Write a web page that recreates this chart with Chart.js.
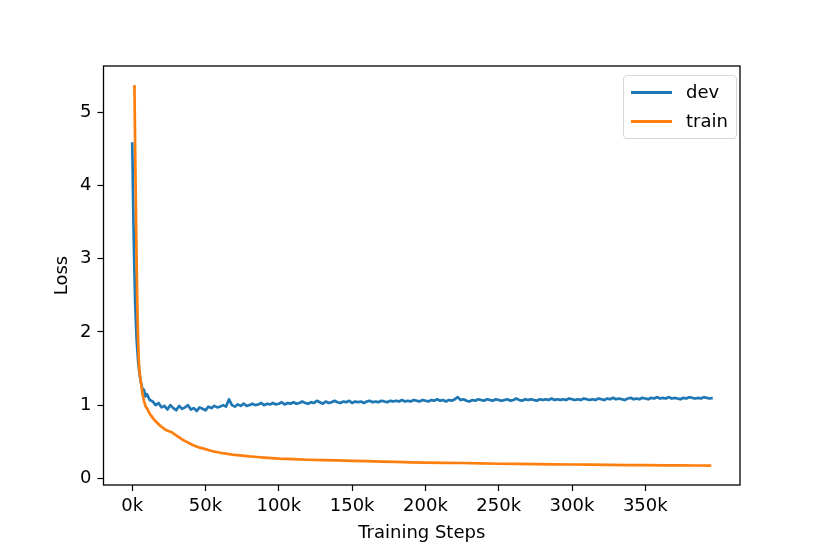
<!DOCTYPE html>
<html>
<head>
<meta charset="utf-8">
<script src="https://cdn.jsdelivr.net/npm/chart.js@4/dist/chart.umd.min.js"></script>
<style>
  body { margin: 0; background: #fff; }
  #wrap { position: relative; width: 830px; height: 554px; }
  #legend {
    position: absolute; left: 623px; top: 75px; width: 112px; height: 62px;
    border: 1px solid #d6d6d6; border-radius: 4px; background: rgba(255,255,255,0.8);
    font-family: "DejaVu Sans", sans-serif; font-size: 18px; color: #000;
  }
  #legend .row { position: absolute; left: 0; height: 24px; }
  #legend .swatch { position: absolute; left: 7px; width: 41px; height: 3px; }
  #legend .txt { position: absolute; left: 62px; top: -1px; line-height: 24px; white-space: nowrap; }
</style>
</head>
<body>
<div id="wrap">
  <canvas id="grafico" width="830" height="554"></canvas>
  <div id="legend"></div>
</div>
<script>
// training steps in thousands
const devSteps = [0,1,2,3,4,5,6,7,8,9,10,12,14,16,18,20,22,24,26,28,30,32,34,36,38,40,42,44,46,48,50,52,54,56,58,60,62,64,66,68,70,72,74,76,78,80,82,84,86,88,90,92,94,96,98,100,102,104,106,108,110,112,114,116,118,120,122,124,126,128,130,132,134,136,138,140,142,144,146,148,150,152,154,156,158,160,162,164,166,168,170,172,174,176,178,180,182,184,186,188,190,192,194,196,198,200,202,204,206,208,210,212,214,216,218,220,222,224,226,228,230,232,234,236,238,240,242,244,246,248,250,252,254,256,258,260,262,264,266,268,270,272,274,276,278,280,282,284,286,288,290,292,294,296,298,300,302,304,306,308,310,312,314,316,318,320,322,324,326,328,330,332,334,336,338,340,342,344,346,348,350,352,354,356,358,360,362,364,366,368,370,372,374,376,378,380,382,384,386,388,390,392,394,396];
const devLoss = [4.59,3.3,2.4,1.9,1.6,1.42,1.3,1.22,1.21,1.12,
  1.15,1.07,1.05,1.0,1.03,0.97,0.99,0.94,1.0,0.96,0.93,0.99,0.95,0.97,1.0,0.94,0.96,0.92,0.97,0.95,
  0.93,0.98,0.96,0.99,0.97,0.98,1.0,0.98,1.08,1.0,0.98,1.01,0.99,1.02,0.99,1.0,1.02,1.0,1.01,1.03,
  1.0,1.02,1.01,1.03,1.01,1.02,1.04,1.01,1.03,1.02,1.04,1.02,1.03,1.05,1.03,1.02,1.04,1.03,1.06,1.04,
  1.02,1.05,1.03,1.04,1.06,1.04,1.03,1.05,1.04,1.06,1.03,1.05,1.04,1.05,1.03,1.05,1.06,1.04,1.05,1.04,
  1.06,1.05,1.04,1.06,1.05,1.06,1.05,1.07,1.05,1.06,1.05,1.07,1.06,1.05,1.07,1.06,1.05,1.07,1.06,1.08,
  1.06,1.07,1.05,1.07,1.06,1.08,1.11,1.07,1.08,1.06,1.05,1.07,1.06,1.08,1.07,1.06,1.08,1.07,1.06,1.08,
  1.07,1.06,1.07,1.08,1.06,1.07,1.09,1.07,1.06,1.08,1.07,1.08,1.07,1.06,1.08,1.07,1.08,1.07,1.09,1.07,
  1.08,1.07,1.08,1.07,1.09,1.08,1.07,1.08,1.07,1.09,1.08,1.07,1.08,1.07,1.09,1.08,1.07,1.09,1.08,1.1,
  1.08,1.09,1.08,1.07,1.09,1.1,1.08,1.09,1.08,1.1,1.09,1.08,1.1,1.09,1.11,1.09,1.1,1.09,1.11,1.09,
  1.1,1.09,1.08,1.1,1.09,1.11,1.1,1.09,1.1,1.09,1.11,1.1,1.09,1.1];

const trainSteps = [1.5,2,2.5,3,3.5,4,4.5,5,6,7,8,9,10.5,12,13.5,15,17,19,21,23,25,27,29,32,35,38,42,46,50,55,60,70,80,90,100,120,140,160,180,200,225,250,275,300,325,350,375,395];
const trainLoss = [5.37,4.5,3.7,2.95,2.35,1.9,1.6,1.45,1.3,1.15,1.06,0.99,0.94,0.88,0.84,0.8,0.76,0.72,0.69,0.66,0.645,0.63,0.6,0.56,0.52,0.49,0.45,0.42,0.4,0.37,0.35,0.32,0.3,0.285,0.27,0.255,0.245,0.235,0.225,0.215,0.21,0.2,0.195,0.19,0.185,0.18,0.178,0.175];

const xTicks = [0,50,100,150,200,250,300,350];
const yTicks = [0,1,2,3,4,5];

const canvas = document.getElementById("grafico");
const fuente = { family: "DejaVu Sans", size: 18 };

const toPoints = (xs, ys) => xs.map((x, i) => ({ x: x, y: ys[i] }));

// full box around plot area (matplotlib spines)
const spines = {
  id: "spines",
  afterDraw(chart) {
    const a = chart.chartArea;
    const ctx = chart.ctx;
    ctx.save();
    ctx.strokeStyle = "#000";
    ctx.lineWidth = 1.3;
    ctx.strokeRect(a.left, a.top, a.right - a.left, a.bottom - a.top);
    ctx.restore();
  }
};

// tiny tension keeps Chart.js off its per-pixel fast path (it made a blip on the steep drop)
const lineStyle = { borderWidth: 2.7, borderJoinStyle: "round", borderCapStyle: "butt", pointRadius: 0, tension: 0.0001 };

const grafica = {
  type: "line",
  data: {
    datasets: [
      Object.assign({ label: "dev", data: toPoints(devSteps, devLoss), borderColor: "#1f77b4", backgroundColor: "#1f77b4", order: 2 }, lineStyle),
      Object.assign({ label: "train", data: toPoints(trainSteps, trainLoss), borderColor: "#ff7f0e", backgroundColor: "#ff7f0e", order: 1 }, lineStyle)
    ]
  },
  options: {
    responsive: false,
    animation: false,
    layout: { padding: { top: 66, right: 90, left: 0, bottom: 0 } },
    plugins: { legend: { display: false }, tooltip: { enabled: false } },
    scales: {
      x: {
        type: "linear",
        min: -19.6, max: 414.6,
        afterBuildTicks: s => { s.ticks = xTicks.map(v => ({ value: v })); },
        afterFit: s => { s.height = 69; },
        grid: { drawOnChartArea: false, color: "#000", tickLength: 6, tickWidth: 1.2 },
        border: { display: false },
        ticks: { color: "#000", font: fuente, padding: 5, maxRotation: 0, callback: v => v + "k" },
        title: { display: true, text: "Training Steps", color: "#000", font: fuente, padding: { top: 0, bottom: 10 } }
      },
      y: {
        min: -0.09, max: 5.63,
        afterBuildTicks: s => { s.ticks = yTicks.map(v => ({ value: v })); },
        afterFit: s => { s.width = 103.5; },
        grid: { drawOnChartArea: false, color: "#000", tickLength: 6, tickWidth: 1.2 },
        border: { display: false },
        ticks: { color: "#000", font: fuente, padding: 6, callback: v => String(v) },
        title: { display: true, text: "Loss", color: "#000", font: fuente, padding: { top: 52, bottom: 0 } }
      }
    }
  },
  plugins: [spines]
};

const chart = new Chart(canvas, grafica);

// legend box in the upper right like matplotlib
const legend = document.getElementById("legend");
chart.data.datasets.forEach((ds, i) => {
  const row = document.createElement("div");
  row.className = "row";
  row.style.top = (5 + i * 28.5) + "px";
  row.style.width = "100%";
  row.innerHTML = '<div class="swatch" style="top:10px;background:' + ds.borderColor + '"></div><span class="txt">' + ds.label + '</span>';
  legend.appendChild(row);
});
</script>
</body>
</html>
